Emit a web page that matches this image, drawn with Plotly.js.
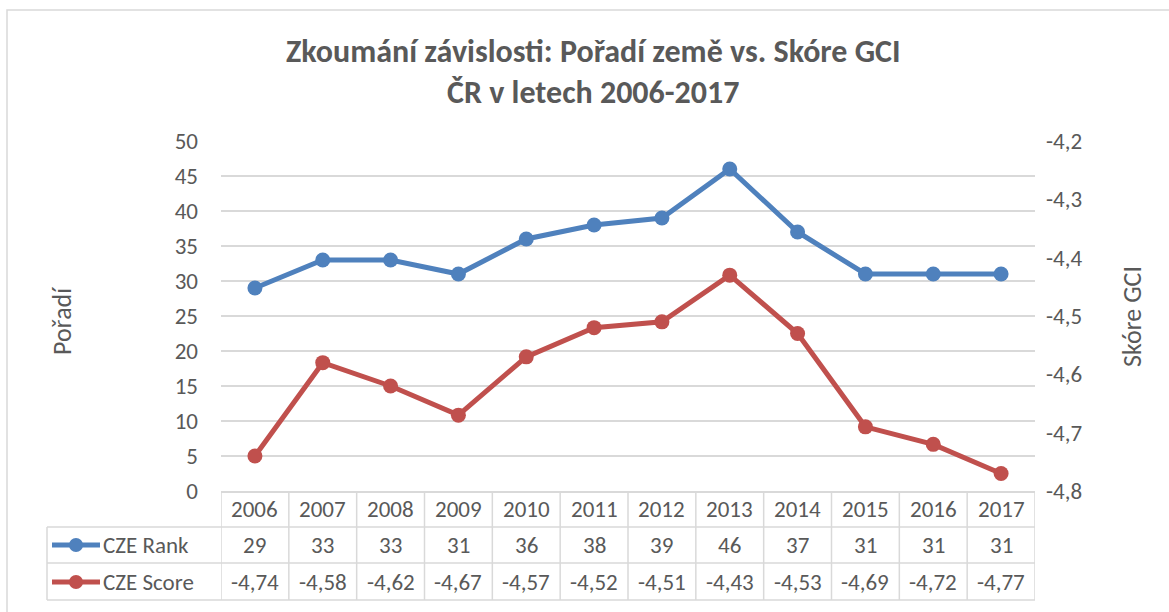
<!DOCTYPE html>
<html>
<head>
<meta charset="utf-8">
<script src="https://cdn.plot.ly/plotly-3.0.1.min.js"></script>
<style>html,body{margin:0;padding:0;background:#fff;}#chart{width:1169px;height:612px;}</style>
</head>
<body>
<div id="chart"></div>
<script>
// ---- data ----
const years = ["2006","2007","2008","2009","2010","2011","2012","2013","2014","2015","2016","2017"];
const rankValues = [29,33,33,31,36,38,39,46,37,31,31,31];
const scoreValues = [-4.74,-4.58,-4.62,-4.67,-4.57,-4.52,-4.51,-4.43,-4.53,-4.69,-4.72,-4.77];
const rankName = "CZE Rank";
const scoreName = "CZE Score";
const rightTickVals = [-4.8,-4.7,-4.6,-4.5,-4.4,-4.3,-4.2];
const rightTickLabels = ["-4,8","-4,7","-4,6","-4,5","-4,4","-4,3","-4,2"];
const titleLines = ["Zkoumání závislosti: Pořadí země vs. Skóre GCI","ČR v letech 2006-2017"];
const leftAxisTitle = "Pořadí";
const rightAxisTitle = "Skóre GCI";

// ---- layout geometry ----
const W = 1169, H = 612;
const L = 221, R = 1035, T = 141, B = 491;
const px = x => (x - L) / (R - L);
const py = y => (B - y) / (B - T);
const FONT = "Carlito, Calibri, Lato, sans-serif";
const GRAY = "#595959";
const BLUE = "#4F81BD", RED = "#C0504D";
const FS = 23;
const idx = years.map((_, i) => i);
const fmt = v => String(v).replace('.', ',').replace(/^(-?\d+,\d)$/, '$10');

const traces = [
  {x: idx, y: rankValues, name: rankName, type: 'scatter', mode: 'lines+markers',
   line: {color: BLUE, width: 5}, marker: {color: BLUE, size: 15}, yaxis: 'y', cliponaxis: false},
  {x: idx, y: scoreValues, name: scoreName, type: 'scatter', mode: 'lines+markers',
   line: {color: RED, width: 5}, marker: {color: RED, size: 15}, yaxis: 'y2', cliponaxis: false}
];

const rowY = [509, 545, 582];
const lineYs = [527, 563, 600];
const gridCol = "#d9d9d9";
const shapes = [];
const annotations = [];

// chart border
shapes.push({type: 'rect', xref: 'paper', yref: 'paper', x0: px(7), x1: px(1200), y0: py(640), y1: py(10),
  line: {color: "#d9d9d9", width: 1.5}, fillcolor: 'rgba(0,0,0,0)', layer: 'below'});

// table horizontal lines
lineYs.forEach(y => shapes.push({type: 'line', xref: 'paper', yref: 'paper', x0: px(47), x1: 1, y0: py(y), y1: py(y), line: {color: gridCol, width: 1.5}}));
// vertical lines at category boundaries
for (let i = 0; i <= years.length; i++) {
  shapes.push({type: 'line', xref: 'x', yref: 'paper', x0: i - 0.5, x1: i - 0.5, y0: py(491), y1: py(600), line: {color: gridCol, width: 1.5}});
}
// legend column left border
shapes.push({type: 'line', xref: 'paper', yref: 'paper', x0: px(47), x1: px(47), y0: py(527), y1: py(600), line: {color: gridCol, width: 1.5}});

// legend glyphs
[[BLUE, rowY[1]], [RED, rowY[2]]].forEach(([c, y]) => {
  shapes.push({type: 'line', xref: 'paper', yref: 'paper', x0: px(52), x1: px(100), y0: py(y), y1: py(y), line: {color: c, width: 5}});
  shapes.push({type: 'circle', xref: 'paper', yref: 'paper', x0: px(69), x1: px(83), y0: py(y + 7), y1: py(y - 7), fillcolor: c, line: {color: c, width: 0}});
});

const tf = {family: FONT, size: FS, color: GRAY};
years.forEach((yr, i) => {
  annotations.push({xref: 'x', yref: 'paper', x: i, y: py(rowY[0]), text: yr, showarrow: false, font: tf, yanchor: 'middle'});
  annotations.push({xref: 'x', yref: 'paper', x: i, y: py(rowY[1]), text: String(rankValues[i]), showarrow: false, font: tf, yanchor: 'middle'});
  annotations.push({xref: 'x', yref: 'paper', x: i, y: py(rowY[2]), text: fmt(scoreValues[i]), showarrow: false, font: tf, yanchor: 'middle'});
});
annotations.push({xref: 'paper', yref: 'paper', x: px(101), y: py(rowY[1]), text: rankName, showarrow: false, font: tf, xanchor: 'left', yanchor: 'middle'});
annotations.push({xref: 'paper', yref: 'paper', x: px(101), y: py(rowY[2]), text: scoreName, showarrow: false, font: tf, xanchor: 'left', yanchor: 'middle'});

// titles
annotations.push({xref: 'paper', yref: 'paper', x: px(593), y: py(51), text: '<b>' + titleLines[0] + '</b>', showarrow: false,
  font: {family: FONT, size: 32, color: GRAY}, yanchor: 'middle'});
annotations.push({xref: 'paper', yref: 'paper', x: px(593), y: py(92), text: '<b>' + titleLines[1] + '</b>', showarrow: false,
  font: {family: FONT, size: 32, color: GRAY}, yanchor: 'middle'});
annotations.push({xref: 'paper', yref: 'paper', x: px(62), y: py(321), text: leftAxisTitle, showarrow: false, textangle: -90,
  font: {family: FONT, size: 26, color: GRAY}, xanchor: 'center', yanchor: 'middle'});
annotations.push({xref: 'paper', yref: 'paper', x: px(1132), y: py(317), text: rightAxisTitle, showarrow: false, textangle: -90,
  font: {family: FONT, size: 26, color: GRAY}, xanchor: 'center', yanchor: 'middle'});

const layout = {
  width: W, height: H,
  margin: {l: L, r: W - R, t: T, b: H - B, pad: 0},
  paper_bgcolor: '#fff', plot_bgcolor: '#fff',
  showlegend: false,
  separators: ', ',
  font: {family: FONT, size: FS, color: GRAY},
  xaxis: {range: [-0.5, years.length - 0.5], showticklabels: false, showgrid: false, zeroline: false,
    showline: true, linecolor: gridCol, linewidth: 1.5, ticks: '', fixedrange: true},
  yaxis: {range: [0, 50], dtick: 5, tick0: 0, showgrid: true, gridcolor: gridCol, gridwidth: 1.5, zeroline: false,
    showline: false, ticks: '', ticklabelstandoff: 22, tickfont: {family: FONT, size: FS, color: GRAY}},
  yaxis2: {range: [-4.8, -4.2], overlaying: 'y', side: 'right', tickvals: rightTickVals, ticktext: rightTickLabels,
    showgrid: false, zeroline: false, showline: false, ticks: '', ticklabelstandoff: 10,
    tickfont: {family: FONT, size: FS, color: GRAY}},
  shapes: shapes,
  annotations: annotations
};

Plotly.newPlot('chart', traces, layout, {displayModeBar: false, staticPlot: true});
</script>
</body>
</html>
